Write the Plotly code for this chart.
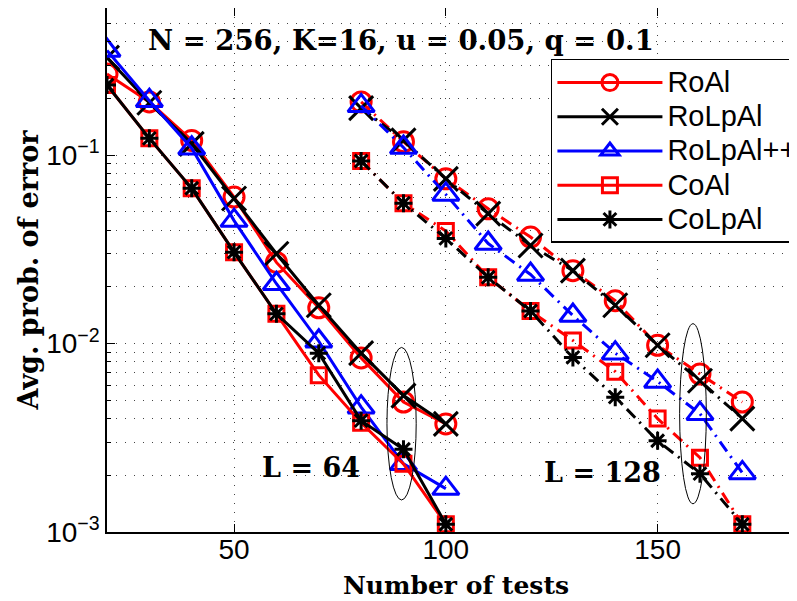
import plotly.graph_objects as go

# ---------------- data ----------------
x64 = [20, 30, 40, 50, 60, 70, 80, 90, 100]
roal_64 = [0.27, 0.192, 0.12, 0.060, 0.027, 0.0155, 0.0084, 0.0049, 0.00375]
rolpal_64 = [0.33, 0.19, 0.115, 0.059, 0.030, 0.016, 0.0089, 0.0053, 0.00375]
rolpalpp_64 = [0.36, 0.195, 0.109, 0.045, 0.0208, 0.0103, 0.0046, 0.0023, 0.0017]
coal_64 = [0.236, 0.123, 0.0668, 0.0306, 0.0144, 0.0068, 0.0038, 0.0023, 0.0011]
colpal_64 = [0.236, 0.123, 0.0668, 0.0306, 0.0144, 0.0089, 0.0039, 0.00275, 0.0011]

x128 = [80, 90, 100, 110, 120, 130, 140, 150, 160, 170]
roal_128 = [0.192, 0.118, 0.075, 0.052, 0.0368, 0.0244, 0.0169, 0.0098, 0.0069, 0.0049]
rolpal_128 = [0.178, 0.12, 0.075, 0.049, 0.0332, 0.0244, 0.016, 0.0098, 0.00635, 0.0040]
rolpalpp_128 = [0.183, 0.11, 0.062, 0.034, 0.0233, 0.0141, 0.0089, 0.0063, 0.00425, 0.00206]
coal_128 = [0.0932, 0.0557, 0.0396, 0.0225, 0.0149, 0.0104, 0.0071, 0.0040, 0.00248, 0.0011]
colpal_128 = [0.0932, 0.0557, 0.0362, 0.0225, 0.0149, 0.00845, 0.0052, 0.00305, 0.00204, 0.0011]

names = ["RoAl", "RoLpAl", "RoLpAl++", "CoAl", "CoLpAl"]
x_ticks = [50, 100, 150]
y_ticks = [0.001, 0.01, 0.1]
y_ticktext = ["10<sup>\u22123</sup>", "10<sup>\u22122</sup>", "10<sup>\u22121</sup>"]
y_minor_ticks = [m * 10.0 ** e for e in (-3, -2, -1) for m in range(2, 10)]

title_text = "N = 256, K=16, u = 0.05, q = 0.1"
label64 = "L = 64"
label128 = "L = 128"

# ---------------- styles ----------------
styles = [
    dict(color="#ff0000", symbol="circle-open", size=20),
    dict(color="#000000", symbol="x-thin-open", size=24),
    dict(color="#0000ff", symbol="triangle-up-open", size=23),
    dict(color="#ff0000", symbol="square-open", size=15),
    dict(color="#000000", symbol="asterisk-open", size=15),
]

series64 = [roal_64, rolpal_64, rolpalpp_64, coal_64, colpal_64]
series128 = [roal_128, rolpal_128, rolpalpp_128, coal_128, colpal_128]

fig = go.Figure()
for name, st, ys in zip(names, styles, series64):
    fig.add_trace(go.Scatter(
        x=x64, y=ys, name='<span style="font-size:29px">' + name + '</span>',
        mode="lines+markers", legendgroup=name,
        line=dict(color=st["color"], width=3),
        marker=dict(symbol=st["symbol"], size=st["size"], color=st["color"],
                    line=dict(color=st["color"], width=3)),
    ))
for name, st, ys in zip(names, styles, series128):
    fig.add_trace(go.Scatter(
        x=x128, y=ys, name=name, mode="lines+markers", legendgroup=name,
        showlegend=False,
        line=dict(color=st["color"], width=3, dash="12px,6px,2px,6px"),
        marker=dict(symbol=st["symbol"], size=st["size"], color=st["color"],
                    line=dict(color=st["color"], width=3)),
    ))

serif = "DejaVu Serif"
sans = "Liberation Sans"

# ellipses marking groups
fig.add_shape(type="circle", xref="x", yref="y", x0=86.1, x1=93.0,
              y0=10 ** -2.83, y1=10 ** -2.02, line=dict(color="black", width=1))
fig.add_shape(type="circle", xref="x", yref="y", x0=155.2, x1=161.5,
              y0=10 ** -2.85, y1=10 ** -1.894, line=dict(color="black", width=1))

fig.add_annotation(x=89.4, y=-0.388, xref="x", yref="y", text="<b>" + title_text + "</b>",
                   showarrow=False, font=dict(family=serif, size=27.5, color="black"))
fig.add_annotation(x=68.2, y=-2.66, xref="x", yref="y", text="<b>" + label64 + "</b>",
                   showarrow=False, font=dict(family=serif, size=27, color="black"))
fig.add_annotation(x=137.1, y=-2.686, xref="x", yref="y", text="<b>" + label128 + "</b>",
                   showarrow=False, font=dict(family=serif, size=27, color="black"))

grid_dash = "1px,8px"
fig.update_layout(
    width=797, height=601,
    margin=dict(l=99, r=0, t=0, b=77, autoexpand=False),
    paper_bgcolor="white", plot_bgcolor="white",
    font=dict(family=sans, size=28, color="black"),
    showlegend=True,
    legend=dict(x=0.636, y=0.9027, xanchor="left", yanchor="top",
                bgcolor="white", bordercolor="black", borderwidth=1.5,
                font=dict(family=sans, size=24, color="black"),
                itemwidth=105, tracegroupgap=0),
    xaxis=dict(range=[20, 184.8], tickvals=x_ticks, ticks="inside", ticklen=8,
               tickwidth=1, tickcolor="black",
               showline=True, linecolor="black", linewidth=1.5, mirror="ticks",
               showgrid=True, gridcolor="#444444", gridwidth=1, griddash=grid_dash,
               zeroline=False, ticklabelstandoff=-8,
               tickfont=dict(family=sans, size=28),
               title=dict(text="<b>Number of tests</b>", font=dict(family=serif, size=25), standoff=12)),
    yaxis=dict(type="log", range=[-3.0, -0.218], tickvals=y_ticks, ticktext=y_ticktext,
               ticks="inside", ticklen=8, tickwidth=1, tickcolor="black",
               showline=True, linecolor="black", linewidth=1.5, mirror=False,
               showgrid=True, gridcolor="#444444", gridwidth=1, griddash=grid_dash,
               zeroline=False,
               minor=dict(tickvals=y_minor_ticks, showgrid=True, gridcolor="#444444",
                          gridwidth=1, griddash=grid_dash,
                          ticks="inside", ticklen=4, tickcolor="black"),
               tickfont=dict(family=sans, size=28),
               title=dict(text="<b>Avg. prob. of error</b>", font=dict(family=serif, size=27), standoff=0)),
)

fig.write_html("out.html")
